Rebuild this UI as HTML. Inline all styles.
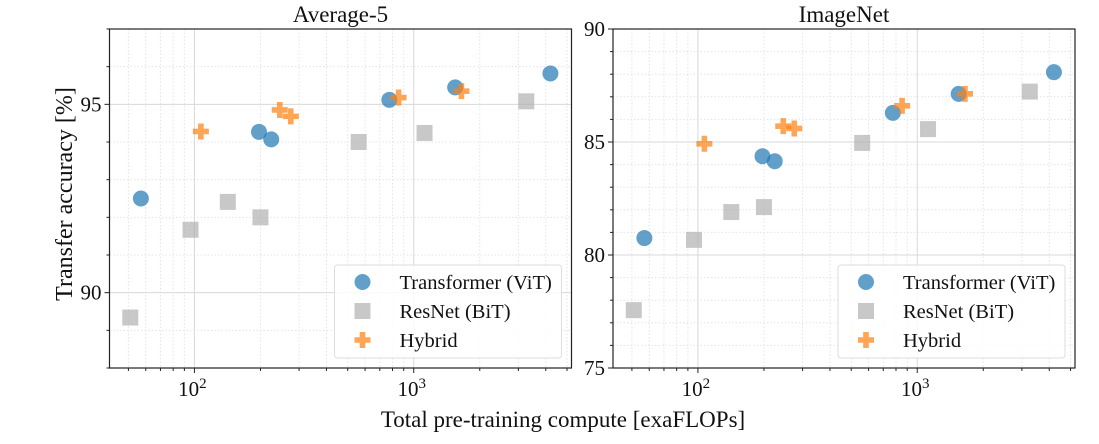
<!DOCTYPE html>
<html><head><meta charset="utf-8"><style>
body{margin:0;background:#fff}
svg text{font-family:"Liberation Serif",serif;fill:#111}
</style></head><body>
<svg id="c" width="1099" height="439" xmlns="http://www.w3.org/2000/svg"></svg>
<script>
const vitX=[57,197,224,774,1545,4200];
const resX=[51,96,142,200,561,1120,3260];
const hybX=[107,245,275,853,1650];
const avgVit=[92.5,94.27,94.07,95.12,95.45,95.82];
const avgRes=[89.34,91.67,92.41,92.0,94.0,94.24,95.08];
const avgHyb=[94.28,94.85,94.68,95.18,95.35];
const inVit=[80.75,84.37,84.15,86.29,87.13,88.09];
const inRes=[77.56,80.67,81.9,82.12,84.96,85.57,87.23];
const inHyb=[84.92,85.7,85.6,86.6,87.13];
const avgTicks=[90,95];
const inTicks=[75,80,85,90];

const NS="http://www.w3.org/2000/svg";
const svg=document.getElementById('c');
function mk(t,a,p){const e=document.createElementNS(NS,t);for(const k in a)e.setAttribute(k,a[k]);(p||svg).appendChild(e);return e;}

function panel(name,x0,x1,y0,y1,ymin,ymax,yticks,title,vit,res,hyb){
  const g=mk('g',{});
  
  
  const lx0=Math.log10(41),lx1=Math.log10(5240);
  const X=v=>x0+(Math.log10(v)-lx0)/(lx1-lx0)*(x1-x0);
  const Y=v=>y1-(v-ymin)/(ymax-ymin)*(y1-y0);
  for(let d=1;d<=3;d++)for(let m=2;m<=9;m++){const v=m*Math.pow(10,d);if(v<41||v>5240)continue;const x=X(v);
    mk('line',{x1:x,x2:x,y1:y0,y2:y1,stroke:'#e4e4e4','stroke-dasharray':'1.5,2'},g);
    mk('line',{x1:x,x2:x,y1:y1,y2:y1+3,stroke:'#222'},g);}
  for(let v=Math.ceil(ymin);v<=ymax;v++){if(yticks.includes(v))continue;const y=Y(v);
    mk('line',{x1:x0,x2:x1,y1:y,y2:y,stroke:'#e4e4e4','stroke-dasharray':'1.5,2'},g);
    mk('line',{x1:x0-3,x2:x0,y1:y,y2:y,stroke:'#222'},g);}
  [100,1000].forEach(v=>{const x=X(v);mk('line',{x1:x,x2:x,y1:y0,y2:y1,stroke:'#d8d8d8'},g);
    mk('line',{x1:x,x2:x,y1:y1,y2:y1+5,stroke:'#222'},g);
    const t=mk('text',{x:x-2,y:y1+28,'font-size':21,'text-anchor':'middle'},g);
    
    t.textContent='10';const s=mk('tspan',{dy:-8,'font-size':15},t);s.textContent=v===100?'2':'3';});
  yticks.forEach(v=>{const y=Y(v);mk('line',{x1:x0,x2:x1,y1:y,y2:y,stroke:'#d8d8d8'},g);
    mk('line',{x1:x0-5,x2:x0,y1:y,y2:y,stroke:'#222'},g);
    const t=mk('text',{x:x0-8,y:y+7,'font-size':21,'text-anchor':'end'},g);
    t.textContent=v;});
  mk('rect',{x:x0,y:y0,width:x1-x0,height:y1-y0,fill:'none',stroke:'#222','stroke-width':1.2},g);
  const tt=mk('text',{x:(x0+x1)/2,y:y0-7,'font-size':23,'text-anchor':'middle'},g);
  tt.textContent=title;
  res.forEach((v,i)=>{const e=mk('rect',{x:X(resX[i])-8,y:Y(v)-8,width:16,height:16,fill:'#b0b0b0','fill-opacity':0.7},g);
    });
  vit.forEach((v,i)=>{const e=mk('circle',{cx:X(vitX[i]),cy:Y(v),r:8,fill:'#1f77b4','fill-opacity':0.7},g);
    });
  const plus=(cx,cy,p)=>mk('path',{d:`M${cx-2.8},${cy-8}h5.6v5.2h5.2v5.6h-5.2v5.2h-5.6v-5.2h-5.2v-5.6h5.2z`,fill:'#ff7f0e','fill-opacity':0.7},p);
  hyb.forEach((v,i)=>{const e=plus(X(hybX[i]),Y(v),g);
    });
  const lg=mk('g',{},g);
  
  const lx=x1-237,ly=y1-103;
  mk('rect',{x:lx,y:ly,width:227,height:93,rx:3,fill:'#fff','fill-opacity':0.85,stroke:'#ddd'},lg);
  mk('circle',{cx:lx+28,cy:ly+17,r:8,fill:'#1f77b4','fill-opacity':0.7},lg);
  mk('rect',{x:lx+20,y:ly+38,width:16,height:16,fill:'#b0b0b0','fill-opacity':0.7},lg);
  plus(lx+28,ly+75,lg);
  [['Transformer (ViT)',17],['ResNet (BiT)',46],['Hybrid',75]].forEach(([s,dy])=>{
    const t=mk('text',{x:lx+65,y:ly+dy+7,'font-size':20.5},lg);
    t.textContent=s;});
}
panel('average-5',109.5,571.5,29,368,88,97,avgTicks,'Average-5',avgVit,avgRes,avgHyb);
panel('imagenet',613,1075,29,368,75,90,inTicks,'ImageNet',inVit,inRes,inHyb);
const yl=mk('text',{x:0,y:0,'font-size':24,'text-anchor':'middle',transform:'translate(72,194) rotate(-90)'});
yl.textContent='Transfer accuracy [%]';
const xl=mk('text',{x:563,y:427,'font-size':23,'text-anchor':'middle'});
xl.textContent='Total pre-training compute [exaFLOPs]';
</script>
</body></html>
